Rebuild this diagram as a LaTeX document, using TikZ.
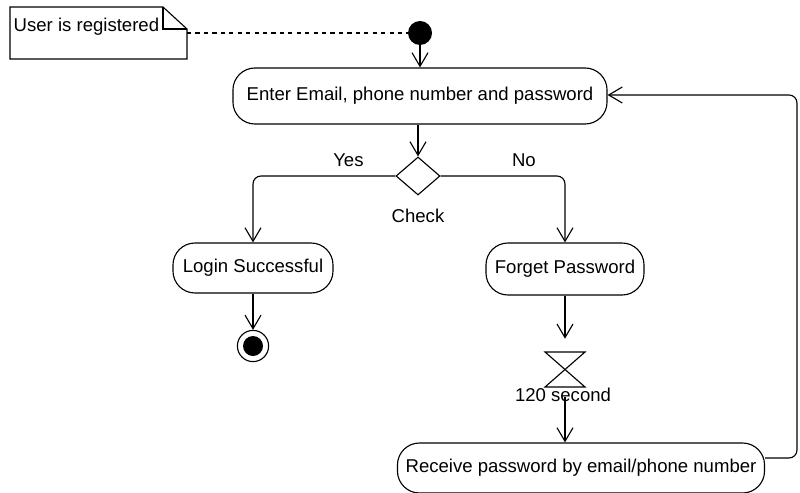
\documentclass[tikz,border=0pt]{standalone}
\usepackage{fontspec}
\setmainfont{Liberation Sans}
\usetikzlibrary{arrows.meta,shapes.geometric}

\tikzset{
    action/.style={draw, thick, rounded corners=0.55cm, align=center},
    arr/.style={thick, -{Straight Barb[length=3.4mm, width=4mm]}},
    label/.style={inner sep=0pt}
}

\begin{document}
\begin{tikzpicture}[x=0.025cm, y=-0.025cm, font=\fontsize{13.2}{16}\selectfont]
    \useasboundingbox (0,0) rectangle (800,492);

    % Note and start
    \draw[thick] (10,7) -- (163,7) -- (187,29) -- (187,59) -- (10,59) -- cycle;
    \draw[thick] (163,7) -- (163,29) -- (187,29);
    \node[label, anchor=west, fill=white, inner sep=1pt] (note) at (12,27) {User is registered};
    \node[circle, fill=black, minimum size=0.6cm, inner sep=0pt] (start) at (420,33) {};
    \draw[thick, dashed] (187,33) -- (start.west);

    % Main actions
    \node[action, minimum width=9.35cm, minimum height=1.4cm] (enter) at (420,96)
        {Enter Email, phone number and password};
    \node[diamond, draw, thick, minimum width=1.1cm, minimum height=0.95cm, inner sep=0pt] (check) at (418,176) {};
    \node[label] (checklbl) at (418,216) {Check};
    \node[action, minimum width=4cm, minimum height=1.25cm] (login) at (253,268) {Login Successful};
    \node[action, minimum width=3.95cm, minimum height=1.3cm] (forget) at (565,269) {Forget Password};

    % End node
    \node[circle, draw, thick, minimum size=0.78cm, inner sep=0pt] (finish) at (253,346) {};
    \node[circle, fill=black, minimum size=0.5cm, inner sep=0pt] at (finish) {};

    % Timer
    \node[minimum width=1cm, minimum height=1.45cm, inner sep=0pt] (timer) at (565,368) {};
    \draw[thick] (545,352) -- (585,352) -- (545,387) -- (585,387) -- cycle;
    \node[label] (timerlbl) at (563,395) {120 second};

    \node[action, minimum width=9.175cm, minimum height=1.25cm] (receive) at (581,468)
        {Receive password by email/phone number};

    % Flows
    \draw[arr] (start) -- (enter);
    \draw[arr] (enter.south -| check) -- (check.north);
    \draw[arr, rounded corners=0.2cm] (check.west) -| node[label, pos=0.165, above=6pt] {Yes} (login.north);
    \draw[arr, rounded corners=0.2cm] (check.east) -| node[label, pos=0.335, above=6pt] {No} (forget.north);
    \draw[arr] (login) -- (finish);
    \draw[arr] (forget) -- (timer.north);
    \draw[arr] (timer.south) -- (receive.north -| timer);

    % Loop back
    \coordinate (loopbot) at (797,458);
    \coordinate (looptop) at (797,95);
    \draw[arr, rounded corners=0.2cm] (receive.east |- loopbot) -- (loopbot) -- (looptop) -- (enter.east |- looptop);
\end{tikzpicture}
\end{document}
